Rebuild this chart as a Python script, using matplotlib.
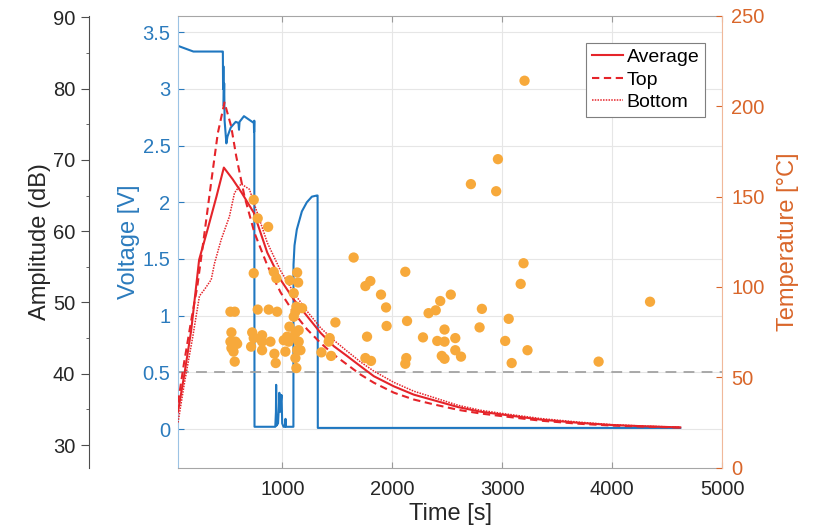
import numpy as np
import matplotlib.pyplot as plt
from matplotlib.ticker import MultipleLocator

plt.rcParams['font.family'] = ['Liberation Sans', 'DejaVu Sans']

# Voltage trace (time [s], voltage [V])
volt_t = [50, 190, 452, 458, 460, 463, 466, 470, 474, 490, 500, 530, 575, 600, 605, 610,
          650, 695, 740, 742, 744, 746, 935, 941, 943, 946, 960, 968, 972, 977, 982, 987,
          992, 998, 1010, 1025, 1028, 1031, 1100, 1101, 1110, 1131, 1177, 1222, 1268,
          1313, 1320, 1322, 4620]
volt_v = [3.38, 3.33, 3.33, 3.33, 3.0, 3.2, 2.85, 3.05, 2.72, 2.52, 2.58, 2.66, 2.71, 2.70,
          2.64, 2.71, 2.76, 2.73, 2.70, 2.62, 2.72, 0.02, 0.02, 0.15, 0.39, 0.03, 0.05,
          0.20, 0.32, 0.15, 0.30, 0.25, 0.30, 0.05, 0.02, 0.02, 0.09, 0.02, 0.02, 1.45,
          1.62, 1.76, 1.92, 2.0, 2.05, 2.06, 2.06, 0.01, 0.01]

# Temperature curves (time [s], temperature [C])
avg_t = [50, 110, 170, 242, 320, 400, 467, 548, 630, 740, 862, 983, 1104, 1225, 1347, 1468,
         1590, 1711, 1832, 2014, 2196, 2378, 2600, 2800, 3000, 3350, 3700, 4000, 4300, 4620]
avg_T = [31, 52.5, 76, 115, 132, 150, 166, 159.5, 152, 141, 119, 104, 93, 83.8, 74.6, 67.2,
         61.7, 56.1, 50.6, 45, 40.4, 37.3, 33.5, 31, 29.4, 26.6, 24.8, 23.6, 22.9, 22.3]

top_t = [50, 105, 166, 226, 287, 352, 412, 473, 533, 579, 655, 745, 862, 983, 1104, 1225,
         1347, 1468, 1590, 1711, 1832, 2014, 2196, 2378, 2600, 2800, 3000, 3350, 3700, 4000,
         4300, 4620]
top_T = [36, 58, 80, 100.5, 128, 158, 185, 202, 189, 172.5, 150, 130, 112, 97, 85.7, 76.5,
         69, 62.5, 57, 51.5, 47, 41.5, 37.7, 35, 32, 30, 28.5, 26, 24.3, 23.3, 22.7, 22.2]

bot_t = [50, 109, 185, 245, 291, 352, 382, 442, 518, 564, 624, 700, 740, 862, 983, 1104,
         1225, 1347, 1468, 1590, 1711, 1832, 2014, 2196, 2378, 2600, 2800, 3000, 3350, 3700,
         4000, 4300, 4620]
bot_T = [25, 47, 72.7, 95, 98.6, 104, 113, 126, 139, 152, 157, 154, 146.6, 124.5, 109, 96.8,
         86.5, 77.4, 70.5, 64.4, 58.5, 53.4, 47.2, 42.3, 38.8, 34.5, 31.8, 30, 27.2, 25.2,
         23.8, 23, 22.4]

# Acoustic emission hits (time [s], amplitude [dB])
hit_t = [527, 566, 536, 527, 573, 588, 536, 555, 566,
         739, 775, 870, 739, 921, 945, 775, 875, 952, 725, 739, 815, 815, 891, 715, 815, 927, 939,
         1012, 1043, 1057, 1027, 1064, 1066, 1134, 1143, 1103, 1118, 1127, 1179, 1103, 1148,
         1118, 1073, 1148, 1134, 1164, 1118, 1127,
         1482, 1430, 1421, 1355, 1443,
         1648, 1755, 1800, 1897, 1943, 1948, 1770, 1755, 1806,
         2118, 2134, 2127, 2118, 2279, 2330, 2395, 2436, 2532, 2475, 2409, 2475, 2573, 2573,
         2625, 2450, 2475,
         2794, 2815, 2715, 2961, 2945, 3027, 3059, 3086, 3194, 3168, 3230, 3203, 3877, 4345]
hit_db = [48.7, 48.7, 45.8, 44.5, 44.5, 44.2, 43.6, 43.1, 41.7,
          64.4, 61.8, 60.6, 54.1, 54.3, 53.4, 49.0, 49.0, 48.7, 45.8, 45.0, 45.4, 44.5, 44.5,
          43.8, 43.3, 42.8, 41.5,
          44.7, 45.2, 44.5, 43.1, 46.6, 53.1, 54.2, 52.8, 51.3, 48.7, 49.4, 49.2, 48.0, 46.1,
          45.7, 45.0, 44.5, 43.3, 43.3, 42.2, 40.8,
          47.2, 45.0, 44.5, 43.0, 42.5,
          56.3, 52.3, 53.0, 51.1, 49.3, 46.7, 45.2, 42.2, 41.8,
          54.3, 47.4, 42.2, 41.4, 45.1, 48.5, 48.9, 50.2, 51.1, 46.2, 44.6, 44.5, 45.0, 43.3,
          42.4, 42.5, 42.1,
          46.5, 49.1, 66.6, 70.1, 65.6, 44.6, 47.7, 41.5, 55.5, 52.6, 43.3, 81.1, 41.7, 50.1]

blue = '#1f77c0'
blue_txt = '#2b7bbd'
orange_txt = '#d9662a'
red = '#e5242a'
dot_col = '#f7a93b'
txt = '#262626'

fig = plt.figure(figsize=(8.23, 5.31), dpi=100)
ax_v = fig.add_axes([0.2163, 0.1192, 0.661, 0.8512])
ax_t = ax_v.twinx()
ax_a = ax_v.twinx()

# voltage axis (main box)
ax_v.plot(volt_t, volt_v, color=blue, lw=1.5)
ax_v.axhline(0.5, color='#a3a3a3', lw=1.3, ls=(0, (6, 4)))
ax_v.set_xlim(50, 5000)
ax_v.set_ylim(-0.341, 3.646)
ax_v.set_xticks([1000, 2000, 3000, 4000, 5000])
ax_v.set_yticks(np.arange(0, 3.51, 0.5))
ax_v.set_yticklabels(['0', '0.5', '1', '1.5', '2', '2.5', '3', '3.5'])
ax_v.grid(True, color='#e6e6e6', lw=0.8)
ax_v.set_axisbelow(True)
ax_v.tick_params(axis='x', direction='in', top=True, length=4, color='#9a9a9a',
                 labelsize=14.5, labelcolor=txt, pad=8.5)
ax_v.tick_params(axis='y', direction='in', length=4, color=blue_txt,
                 labelsize=14.5, labelcolor=blue_txt, pad=5.5)
ax_v.spines['left'].set_color('#9cc3e4')
ax_v.spines['top'].set_color('#a6a6a6')
ax_v.spines['bottom'].set_color('#a6a6a6')
ax_v.spines['right'].set_visible(False)
ax_v.set_xlabel('Time [s]', fontsize=17, color=txt, labelpad=3.5)
ax_v.set_ylabel('Voltage [V]', fontsize=17, color=blue_txt, labelpad=2)

# temperature axis (right)
ax_t.plot(avg_t, avg_T, color=red, lw=1.5, label='Average')
ax_t.plot(top_t, top_T, color=red, lw=1.5, ls=(0, (3.5, 2.2)), label='Top')
ax_t.plot(bot_t, bot_T, color=red, lw=1.1, ls=(0, (1, 0.8)), label='Bottom')
ax_t.set_ylim(0, 250)
ax_t.set_yticks(np.arange(0, 251, 50))
ax_t.tick_params(axis='y', direction='in', length=4, color=orange_txt,
                 labelsize=14.5, labelcolor=orange_txt, pad=6.5)
for s in ['left', 'top', 'bottom']:
    ax_t.spines[s].set_visible(False)
ax_t.spines['right'].set_color('#f0b89a')
ax_t.set_ylabel('Temperature [\u00b0C]', fontsize=17, color=orange_txt, labelpad=9)
leg = ax_t.legend(loc='upper right', bbox_to_anchor=(0.969, 0.94), fontsize=14,
                  frameon=True, fancybox=False, framealpha=1, edgecolor='#7f7f7f',
                  borderpad=0.3, labelspacing=0.25, handlelength=1.6,
                  handletextpad=0.2, borderaxespad=0)
leg.get_frame().set_linewidth(0.8)

# amplitude axis (outer left)
ax_a.scatter(hit_t, hit_db, s=55, color=dot_col, edgecolors='none', zorder=3)
ax_a.set_ylim(26.82, 90.22)
ax_a.set_yticks(np.arange(30, 91, 10))
ax_a.yaxis.set_minor_locator(MultipleLocator(5))
ax_a.yaxis.set_ticks_position('left')
ax_a.yaxis.set_label_position('left')
ax_a.spines['left'].set_visible(True)
ax_a.spines['left'].set_position(('axes', -0.1636))
ax_a.spines['left'].set_color('#4d4d4d')
for s in ['right', 'top', 'bottom']:
    ax_a.spines[s].set_visible(False)
ax_a.tick_params(axis='y', which='major', direction='out', length=5.5, color='#4d4d4d',
                 labelsize=14.5, labelcolor=txt, pad=4.5)
ax_a.tick_params(axis='y', which='minor', direction='out', length=2.5, color='#4d4d4d')
ax_a.set_ylabel('Amplitude (dB)', fontsize=17, color=txt, labelpad=1.5)

fig.savefig('out.png', dpi=100)
